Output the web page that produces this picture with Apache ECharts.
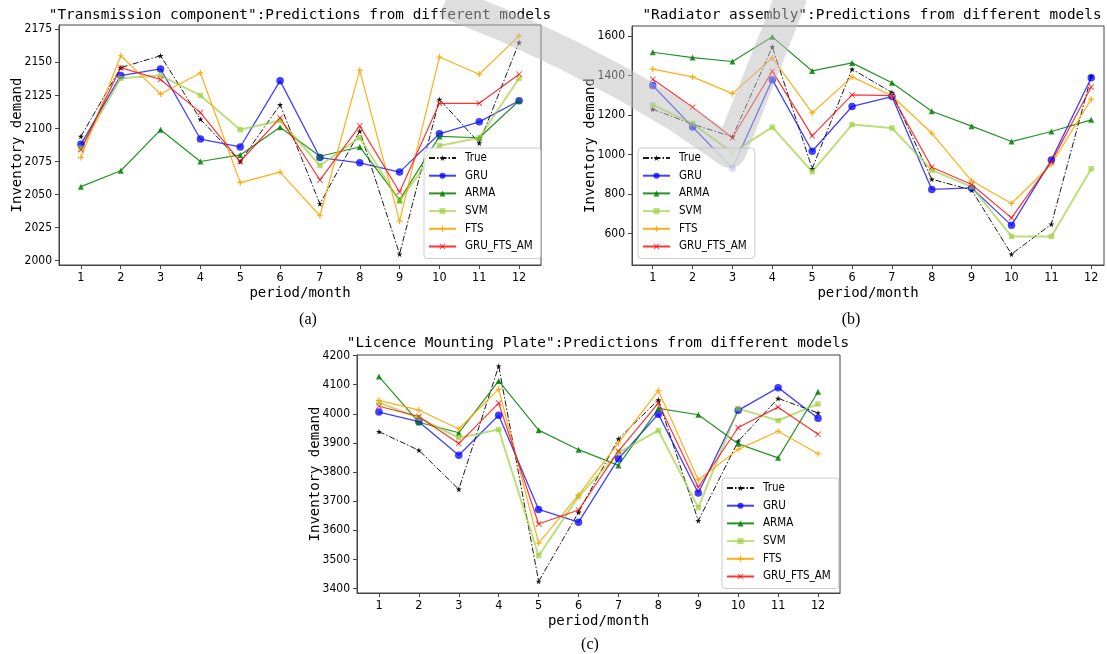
<!DOCTYPE html>
<html>
<head>
<meta charset="utf-8">
<script src="https://cdn.jsdelivr.net/npm/echarts@6/dist/echarts.min.js"></script>
<style>
  html, body { margin: 0; padding: 0; background: #fff; }
  #main { width: 1107px; height: 654px; }
</style>
</head>
<body>
<div id="main"></div>
<script>
// months on the x axis
var months = [1, 2, 3, 4, 5, 6, 7, 8, 9, 10, 11, 12];
var modelNames = ['True', 'GRU', 'ARMA', 'SVM', 'FTS', 'GRU_FTS_AM'];

// (a) Transmission component
var transTrue = [2094, 2146, 2155, 2107, 2075, 2118, 2043, 2098, 2005, 2122, 2089, 2165];
var transGRU  = [2088, 2140, 2145, 2092, 2086, 2136, 2078, 2074, 2067, 2096, 2105, 2121];
var transARMA = [2056, 2068, 2099, 2075, 2080, 2101, 2079, 2086, 2046, 2094, 2093, 2121];
var transSVM  = [2085, 2138, 2140, 2125, 2099, 2106, 2072, 2093, 2045, 2087, 2093, 2138];
var transFTS  = [2078, 2155, 2126, 2142, 2059, 2067, 2034, 2144, 2030, 2154, 2141, 2170];
var transAM   = [2084, 2146, 2137, 2112, 2075, 2108, 2061, 2102, 2052, 2119, 2119, 2141];
var transTicks = [2000, 2025, 2050, 2075, 2100, 2125, 2150, 2175];

// (b) Radiator assembly
var radTrue = [1230, 1154, 1090, 1546, 929, 1433, 1315, 875, 820, 495, 647, 1397];
var radGRU  = [1350, 1140, 931, 1380, 1017, 1244, 1294, 823, 831, 641, 972, 1390];
var radARMA = [1519, 1492, 1472, 1597, 1424, 1465, 1364, 1220, 1144, 1066, 1117, 1176];
var radSVM  = [1252, 1157, 1010, 1139, 913, 1152, 1135, 921, 836, 585, 585, 928];
var radFTS  = [1433, 1394, 1309, 1490, 1211, 1394, 1298, 1108, 867, 752, 951, 1281];
var radAM   = [1382, 1240, 1085, 1423, 1095, 1303, 1299, 936, 848, 679, 963, 1343];
var radTicks = [600, 800, 1000, 1200, 1400, 1600];

// (c) Licence Mounting Plate
var plateTrue = [3939, 3875, 3741, 4164, 3425, 3662, 3914, 4048, 3633, 3906, 4053, 4003];
var plateGRU  = [4006, 3973, 3858, 3995, 3672, 3628, 3846, 3999, 3728, 4012, 4090, 3985];
var plateARMA = [4128, 3971, 3935, 4113, 3944, 3877, 3823, 4019, 3997, 3897, 3849, 4076];
var plateSVM  = [4039, 3986, 3918, 3946, 3513, 3716, 3866, 3943, 3678, 4018, 3977, 4034];
var plateFTS  = [4046, 4013, 3948, 4085, 3556, 3721, 3900, 4080, 3773, 3878, 3940, 3863];
var plateAM   = [4026, 3991, 3898, 4037, 3622, 3670, 3872, 4037, 3748, 3953, 4023, 3930];
var plateTicks = [3400, 3500, 3600, 3700, 3800, 3900, 4000, 4100, 4200];

var monoFont = "'DejaVu Sans Mono', monospace";
var tickFont = "'Liberation Sans Narrow', 'DejaVu Sans Condensed', 'Liberation Sans', sans-serif";

var starPath = 'path://M50,0 L61,35 L98,35 L68,57 L79,91 L50,70 L21,91 L32,57 L2,35 L39,35 Z';
var plusPath = 'path://M4,0 H6 V4 H10 V6 H6 V10 H4 V6 H0 V4 H4 Z';
var crossPath = 'path://M1,0 L5,4 L9,0 L10,1 L6,5 L10,9 L9,10 L5,6 L1,10 L0,9 L4,5 L0,1 Z';

// one style per model, same in every panel
var styles = {
    'True':       { color: '#000000', symbol: starPath, size: 6, width: 1, type: [6, 2, 1.5, 2], opacity: 0.9 },
    'GRU':        { color: '#0000ff', symbol: 'circle', size: 7.5, width: 1.3, type: 'solid', opacity: 0.75 },
    'ARMA':       { color: '#008000', symbol: 'triangle', size: 6, width: 1.2, type: 'solid', opacity: 0.85 },
    'SVM':        { color: '#9acd32', symbol: 'rect', size: 5.5, width: 2, type: 'solid', opacity: 0.65 },
    'FTS':        { color: '#ffa500', symbol: plusPath, size: 6, width: 1.2, type: 'solid', opacity: 0.9 },
    'GRU_FTS_AM': { color: '#ff0000', symbol: crossPath, size: 6, width: 1.2, type: 'solid', opacity: 0.8 }
};

function plain(v) { return String(v); }

function makeSeries(name, values, idx) {
    var s = styles[name];
    return {
        name: name,
        type: 'line',
        xAxisIndex: idx,
        yAxisIndex: idx,
        data: months.map(function (m, i) { return [m, values[i]]; }),
        symbol: s.symbol,
        symbolSize: s.size,
        showSymbol: true,
        animation: false,
        itemStyle: { color: s.color, opacity: s.opacity },
        lineStyle: { color: s.color, width: s.width, type: s.type, opacity: s.opacity }
    };
}

function makeX(idx, min, max) {
    return {
        type: 'value', gridIndex: idx, min: min, max: max,
        name: 'period/month', nameLocation: 'middle', nameGap: 21, nameMoveOverlap: false,
        nameTextStyle: { fontFamily: monoFont, fontSize: 14, color: '#000' },
        axisLine: { show: true, lineStyle: { color: '#444', width: 1 } },
        axisTick: { show: true, length: 4, customValues: months, lineStyle: { color: '#444' } },
        axisLabel: { customValues: months, formatter: plain, margin: 6, fontFamily: tickFont, fontSize: 12.5, color: '#000' },
        splitLine: { show: false }
    };
}

function makeY(idx, min, max, ticks) {
    return {
        type: 'value', gridIndex: idx, min: min, max: max,
        name: 'Inventory demand', nameLocation: 'middle', nameGap: 35, nameMoveOverlap: false,
        nameTextStyle: { fontFamily: monoFont, fontSize: 14, color: '#000' },
        axisLine: { show: true, lineStyle: { color: '#444', width: 1 } },
        axisTick: { show: true, length: 4, customValues: ticks, lineStyle: { color: '#444' } },
        axisLabel: { customValues: ticks, formatter: plain, margin: 7, fontFamily: tickFont, fontSize: 12, color: '#000' },
        splitLine: { show: false }
    };
}

function makeLegend(left, top) {
    return {
        orient: 'vertical', left: left, top: top,
        data: modelNames,
        itemWidth: 27, itemHeight: 7.5, itemGap: 5.7,
        padding: [4, 8, 6, 4],
        backgroundColor: 'rgba(255,255,255,0.8)',
        borderColor: '#cccccc', borderWidth: 1, borderRadius: 3,
        textStyle: { fontFamily: tickFont, fontSize: 11.5, color: '#000', lineHeight: 12, padding: [0, 0, 0, 4] }
    };
}

function makeTitle(text, x, y) {
    return {
        text: text, left: x, top: y, textAlign: 'center', padding: 0,
        textStyle: { fontFamily: monoFont, fontSize: 14.4, fontWeight: 'normal', color: '#000' }
    };
}

var chart = echarts.init(document.getElementById('main'), null, { renderer: 'canvas' });

var option = {
    backgroundColor: '#ffffff',
    animation: false,
    title: [
        makeTitle('"Transmission component":Predictions from different models', 300, 8),
        makeTitle('"Radiator assembly":Predictions from different models', 872, 8),
        makeTitle('"Licence Mounting Plate":Predictions from different models', 598, 336)
    ],
    grid: [
        { left: 59, top: 25, width: 482, height: 240, show: true, borderColor: '#444', borderWidth: 1, backgroundColor: 'transparent' },
        { left: 632, top: 26, width: 472, height: 239, show: true, borderColor: '#444', borderWidth: 1, backgroundColor: 'transparent' },
        { left: 357, top: 355, width: 483, height: 238, show: true, borderColor: '#444', borderWidth: 1, backgroundColor: 'transparent' }
    ],
    xAxis: [
        makeX(0, 0.45, 12.55),
        makeX(1, 0.48, 12.32),
        makeX(2, 0.45, 12.55)
    ],
    yAxis: [
        makeY(0, 1996.75, 2178.25, transTicks),
        makeY(1, 440, 1652, radTicks),
        makeY(2, 3385, 4202, plateTicks)
    ],
    legend: [
        makeLegend(424, 148),
        makeLegend(638, 148),
        makeLegend(722, 478)
    ],
    series: [
        makeSeries('True', transTrue, 0),
        makeSeries('GRU', transGRU, 0),
        makeSeries('ARMA', transARMA, 0),
        makeSeries('SVM', transSVM, 0),
        makeSeries('FTS', transFTS, 0),
        makeSeries('GRU_FTS_AM', transAM, 0),
        makeSeries('True', radTrue, 1),
        makeSeries('GRU', radGRU, 1),
        makeSeries('ARMA', radARMA, 1),
        makeSeries('SVM', radSVM, 1),
        makeSeries('FTS', radFTS, 1),
        makeSeries('GRU_FTS_AM', radAM, 1),
        makeSeries('True', plateTrue, 2),
        makeSeries('GRU', plateGRU, 2),
        makeSeries('ARMA', plateARMA, 2),
        makeSeries('SVM', plateSVM, 2),
        makeSeries('FTS', plateFTS, 2),
        makeSeries('GRU_FTS_AM', plateAM, 2)
    ],
    graphic: [
        // panel captions
        { type: 'text', x: 308, y: 320, style: { text: '(a)', font: "16px 'Liberation Serif', serif", fill: '#000', align: 'center', verticalAlign: 'middle' } },
        { type: 'text', x: 851, y: 320, style: { text: '(b)', font: "16px 'Liberation Serif', serif", fill: '#000', align: 'center', verticalAlign: 'middle' } },
        { type: 'text', x: 590, y: 645, style: { text: '(c)', font: "16px 'Liberation Serif', serif", fill: '#000', align: 'center', verticalAlign: 'middle' } },
        // grey watermark swoosh
        { type: 'polyline', z: 100, silent: true,
          shape: { points: [[445, 2], [508, 27], [568, 55], [625, 85], [679, 117], [730, 152], [792, -5]] },
          style: { fill: null, stroke: 'rgba(190,190,190,0.5)', lineWidth: 32, lineJoin: 'round' } }
    ]
};

chart.setOption(option);
</script>
</body>
</html>
